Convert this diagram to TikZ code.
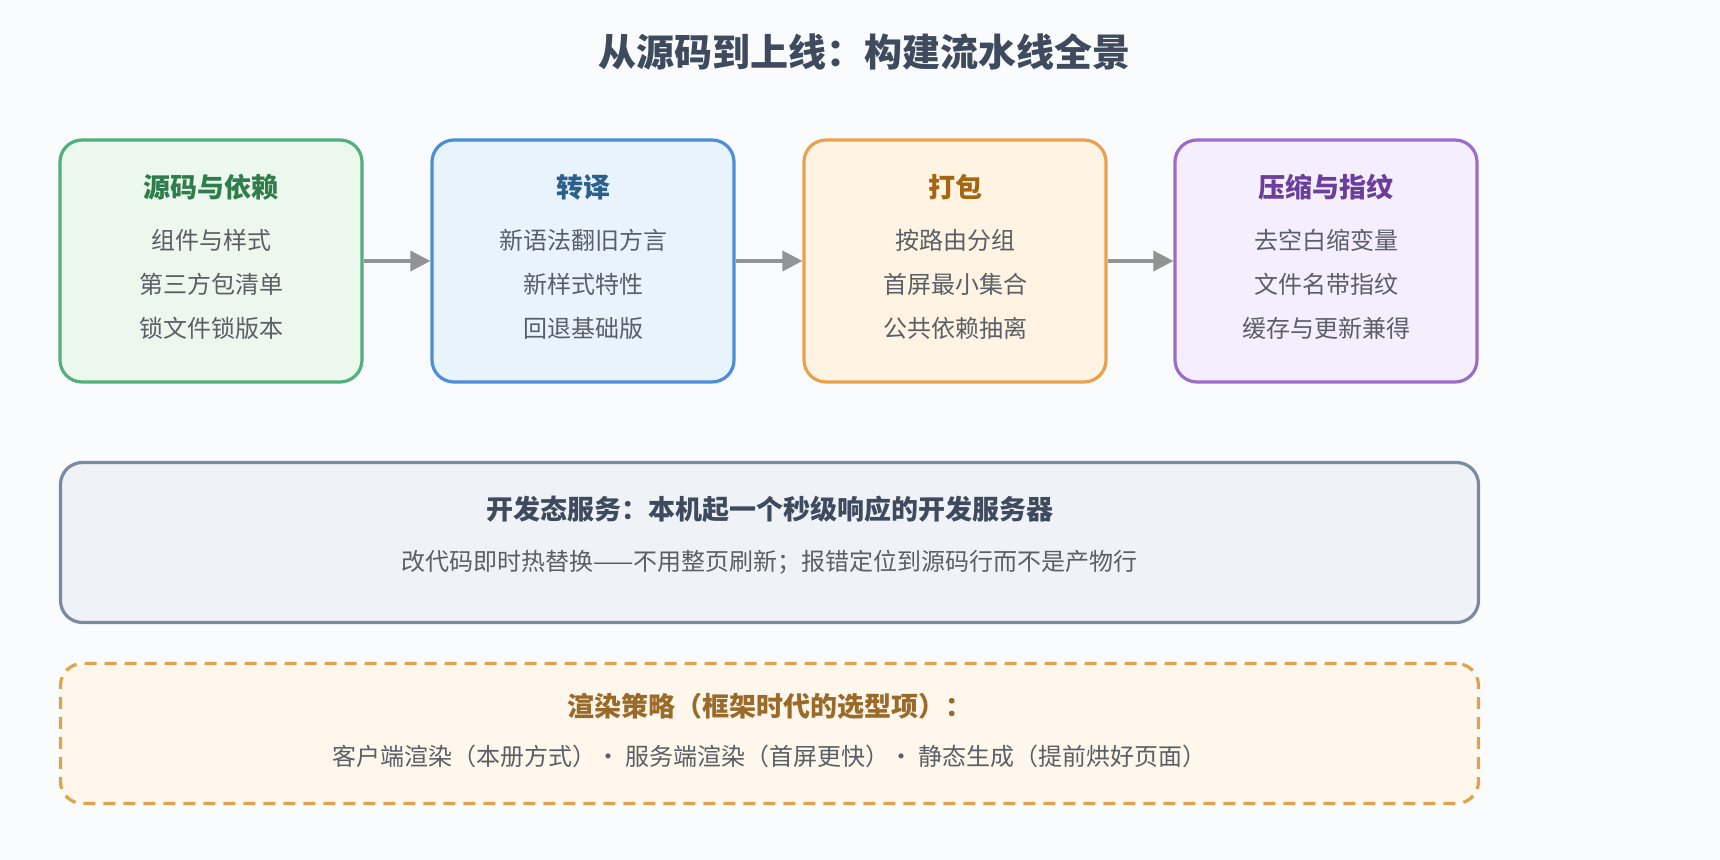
\documentclass[tikz,border=0pt]{standalone}
\usepackage{fontspec}
\setmainfont{Noto Sans CJK SC}
\usetikzlibrary{positioning, arrows.meta}
\definecolor{bgc}{HTML}{F9FBFD}
\definecolor{txt}{HTML}{5A5F66}
\definecolor{gB}{HTML}{52B07C}\definecolor{gF}{HTML}{ECF7EE}\definecolor{gT}{HTML}{2E7D4A}
\definecolor{bB}{HTML}{4A8FD8}\definecolor{bF}{HTML}{E8F3FC}\definecolor{bT}{HTML}{2C5F8C}
\definecolor{oB}{HTML}{E8A24C}\definecolor{oF}{HTML}{FFF3E4}\definecolor{oT}{HTML}{A5660F}
\definecolor{pB}{HTML}{9B6DC8}\definecolor{pF}{HTML}{F5EEFC}\definecolor{pT}{HTML}{6B3E9C}
\definecolor{dB}{HTML}{7B8AA0}\definecolor{dF}{HTML}{EFF2F6}\definecolor{dT}{HTML}{3E4B5E}
\definecolor{rB}{HTML}{DDA44E}\definecolor{rF}{HTML}{FFF7EB}\definecolor{rT}{HTML}{9A6A2A}
\tikzset{
  stage/.style={draw=#1B,fill=#1F,line width=1.6pt,rounded corners=11pt,minimum width=151pt,minimum height=121pt},
  head/.style={font=\bfseries\fontsize{13.5}{15}\selectfont},
  body/.style={text=txt,font=\fontsize{12}{22}\selectfont,align=center},
  flow/.style={-{Triangle[length=10pt,width=10pt]},draw=gray!85,line width=1.8pt}
}
\begin{document}
\begin{tikzpicture}[x=0.5pt,y=-0.5pt]
  \fill[bgc] (0,0) rectangle (1720,860);
  \node[font=\bfseries\fontsize{19}{22}\selectfont,text=dT] (title) at (864,52) {从源码到上线：构建流水线全景};
  % 四个阶段
  \node[stage=g] (src) at (211,261) {};
  \node[stage=b] (trans) at (583,261) {};
  \node[stage=o] (pack) at (955,261) {};
  \node[stage=p] (mini) at (1326,261) {};
  \node[head,text=gT] (srcT) at (211,187) {源码与依赖};
  \node[body] (srcB) at (211,284) {组件与样式\\第三方包清单\\锁文件锁版本};
  \node[head,text=bT] (transT) at (583,187) {转译};
  \node[body] (transB) at (583,284) {新语法翻旧方言\\新样式特性\\回退基础版};
  \node[head,text=oT] (packT) at (955,187) {打包};
  \node[body] (packB) at (955,284) {按路由分组\\首屏最小集合\\公共依赖抽离};
  \node[head,text=pT] (miniT) at (1326,187) {压缩与指纹};
  \node[body] (miniB) at (1326,284) {去空白缩变量\\文件名带指纹\\缓存与更新兼得};
  \draw[flow] (src) -- (trans);
  \draw[flow] (trans) -- (pack);
  \draw[flow] (pack) -- (mini);
  % 开发服务与渲染策略
  \node[draw=dB,fill=dF,line width=1.6pt,rounded corners=11pt,minimum width=709pt,minimum height=80pt] (dev) at (769.5,542.5) {};
  \node[head,text=dT] (devT) at (769.5,509) {开发态服务：本机起一个秒级响应的开发服务器};
  \node[body] (devB) at (769.5,562) {改代码即时热替换——不用整页刷新；报错定位到源码行而不是产物行};
  \node[draw=rB,fill=rF,line width=1.6pt,dashed,dash pattern=on 6pt off 4pt,rounded corners=11pt,minimum width=709pt,minimum height=70pt] (rend) at (769.5,733.5) {};
  \node[head,text=rT] (rendT) at (769.5,706) {渲染策略（框架时代的选型项）：};
  \node[body] (rendB) at (769.5,756) {客户端渲染（本册方式）· 服务端渲染（首屏更快）· 静态生成（提前烘好页面）};
\end{tikzpicture}
\end{document}
